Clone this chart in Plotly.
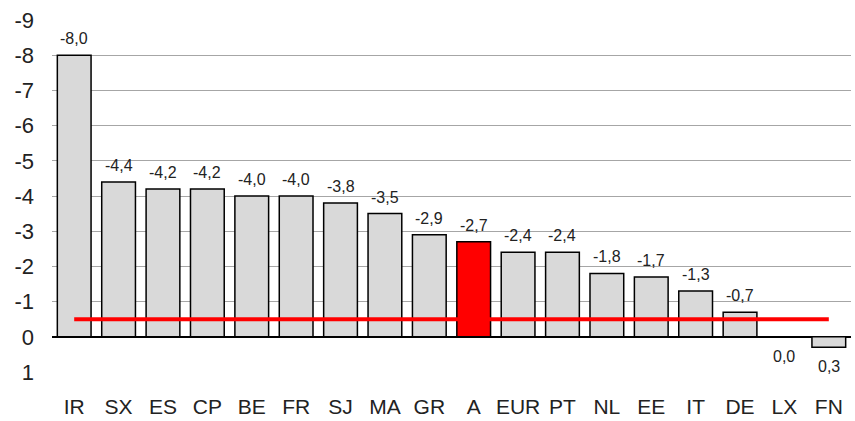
import plotly.graph_objects as go

countries = ["IR", "SX", "ES", "CP", "BE", "FR", "SJ", "MA", "GR", "A",
             "EUR", "PT", "NL", "EE", "IT", "DE", "LX", "FN"]
values = [-8.0, -4.4, -4.2, -4.2, -4.0, -4.0, -3.8, -3.5, -2.9, -2.7,
          -2.4, -2.4, -1.8, -1.7, -1.3, -0.7, 0.0, 0.3]
reference_level = -0.5
highlight = "A"
y_ticks = [-9, -8, -7, -6, -5, -4, -3, -2, -1, 0, 1]

FONT = "Liberation Sans Narrow, Arial Narrow, Liberation Sans, Arial, sans-serif"

bar_colors = ["#ff0000" if c == highlight else "#d9d9d9" for c in countries]

fig = go.Figure()
fig.add_trace(go.Bar(
    x=countries, y=values,
    marker=dict(color=bar_colors, line=dict(color="#000000", width=1.5)),
    width=0.76,
    hoverinfo="x+y",
))
fig.add_trace(go.Scatter(
    x=countries, y=[reference_level] * len(countries),
    mode="lines", line=dict(color="#ff0000", width=4),
    hoverinfo="skip",
))

def fmt(v):
    return f"{v:.1f}".replace(".", ",")

annotations = []
for c, v in zip(countries, values):
    annotations.append(dict(
        x=c, y=v, text=fmt(v), showarrow=False,
        xref="x", yref="y",
        yanchor="bottom" if v < 0 else "top",
        yshift=6 if v < 0 else -9,
        font=dict(family=FONT, size=16, color="#222222"),
    ))

fig.update_layout(
    width=855, height=421,
    margin=dict(l=52, r=4, t=20, b=49),
    paper_bgcolor="white", plot_bgcolor="white",
    showlegend=False,
    bargap=0.24,
    annotations=annotations,
    font=dict(family=FONT, color="#222222"),
    xaxis=dict(
        type="category", range=[-0.5, len(countries) - 0.5],
        showgrid=False, showline=False, ticks="",
        ticklabelstandoff=20,
        tickfont=dict(family=FONT, size=21, color="#222222"),
    ),
    yaxis=dict(
        autorange=False, range=[1, -9],
        tickmode="array", tickvals=y_ticks,
        ticktext=[str(t) for t in y_ticks],
        showgrid=True, gridcolor="#a6a6a6", gridwidth=1.2,
        zeroline=True, zerolinecolor="#000000", zerolinewidth=1.5,
        ticks="", ticklabelstandoff=17,
        tickfont=dict(family=FONT, size=22, color="#222222"),
    ),
)

fig.write_html("out.html")
